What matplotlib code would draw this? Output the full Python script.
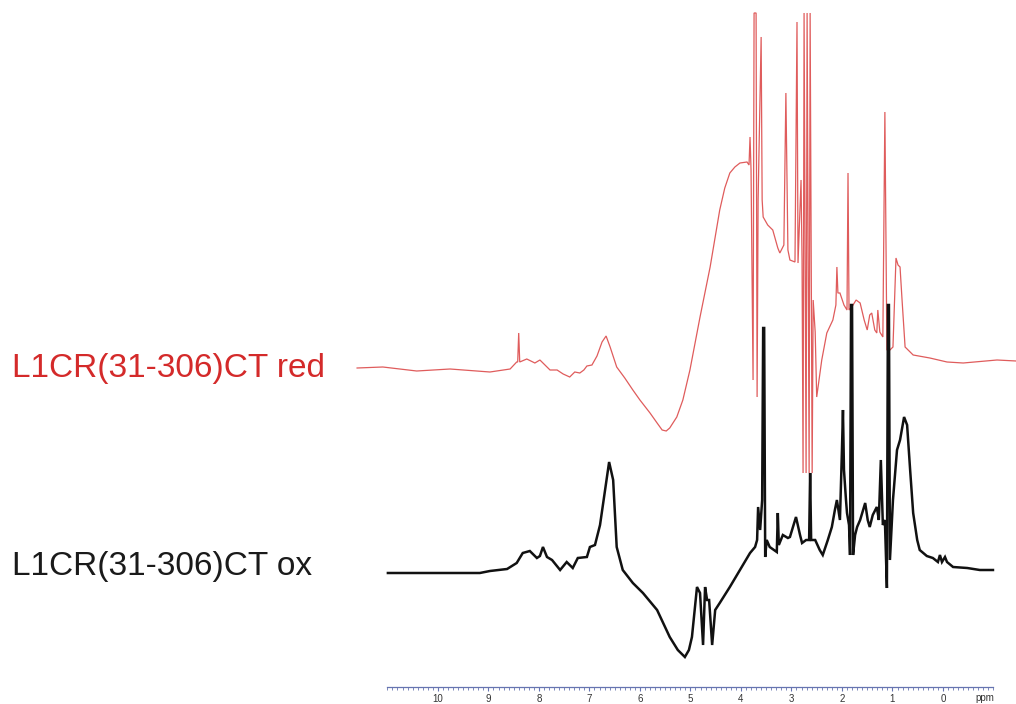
import numpy as np
import matplotlib
matplotlib.use("Agg")
import matplotlib.pyplot as plt
from matplotlib.ticker import FixedLocator

plt.rcParams['font.family'] = ['Liberation Sans', 'DejaVu Sans']

# reduced spectrum (red): shift in ppm, intensity (a.u.)
red_ppm = [11.60, 11.09, 10.42, 9.76, 8.97, 8.57, 8.44, 8.42, 8.40, 8.38,
           8.24, 8.08, 7.98, 7.88, 7.78, 7.64, 7.52, 7.39, 7.29, 7.19,
           7.11, 7.05, 6.95, 6.85, 6.75, 6.67, 6.59, 6.46, 6.30, 6.14,
           6.00, 5.80, 5.66, 5.56, 5.48, 5.41, 5.27, 5.15, 5.01, 4.81,
           4.61, 4.42, 4.32, 4.22, 4.12, 4.02, 3.88,
           3.84, 3.82, 3.80, 3.76, 3.74, 3.70, 3.68, 3.66, 3.60, 3.58,
           3.56, 3.47, 3.37, 3.27, 3.23, 3.15, 3.11, 3.07, 3.03, 2.93,
           2.89, 2.87, 2.81, 2.79, 2.77, 2.75, 2.71, 2.69, 2.65, 2.63,
           2.59, 2.57, 2.53, 2.50, 2.40, 2.30, 2.18, 2.12, 2.10, 2.08,
           2.04, 1.96, 1.90, 1.88, 1.86, 1.78, 1.72, 1.64, 1.56, 1.50,
           1.45, 1.41, 1.35, 1.31, 1.29, 1.25, 1.19, 1.15, 1.11, 1.05,
           0.99, 0.93, 0.89, 0.85, 0.81, 0.75, 0.59, 0.26, -0.08, -0.40,
           -1.07, -1.45]
red_int = [0, 1, -3, -1, -4, -1, 6, 6, 35, 6,
           9, 5, 8, 3, -2, -2, -6, -9, -4, -5,
           -2, 2, 3, 12, 26, 32, 21, 1, -10, -22,
           -32, -45, -55, -62, -63, -60, -49, -32, -2, 51,
           101, 158, 180, 195, 201, 205, 206,
           203, 231, 198, -12, 355, 355, -29, 168, 331, 168,
           151, 143, 138, 120, 115, 123, 275, 118, 108, 106,
           346, 105, 188, 108, -105, 355, -105, 355, -105, 355,
           -105, 68, 36, -29, 8, 35, 48, 63, 101, 75,
           75, 63, 58, 195, 58, 63, 68, 65, 48, 38,
           53, 55, 38, 35, 58, 36, 31, 256, 18, 18,
           21, 110, 103, 101, 68, 21, 13, 10, 6, 5,
           8, 7]

# oxidised spectrum (black)
ox_ppm = [10.99, 10.16, 9.17, 8.97, 8.63, 8.44, 8.32, 8.18, 8.04, 7.98,
          7.92, 7.84, 7.74, 7.58, 7.45, 7.33, 7.23, 7.05, 6.99, 6.89,
          6.79, 6.69, 6.61, 6.53, 6.46, 6.34, 6.14, 5.94, 5.66, 5.41,
          5.25, 5.11, 5.03, 4.97, 4.87, 4.81, 4.75, 4.71, 4.67, 4.63,
          4.57, 4.51, 4.42, 4.22, 4.02, 3.82, 3.72, 3.68, 3.66, 3.62,
          3.58, 3.56, 3.54, 3.52, 3.49, 3.43, 3.29, 3.27, 3.25, 3.17,
          3.07, 3.03, 2.91, 2.83, 2.79, 2.71, 2.65, 2.63, 2.61, 2.53,
          2.44, 2.38, 2.28, 2.20, 2.14, 2.10, 2.04, 2.00, 1.98, 1.96,
          1.92, 1.90, 1.86, 1.84, 1.82, 1.80, 1.78, 1.74, 1.70, 1.64,
          1.54, 1.49, 1.45, 1.39, 1.31, 1.27, 1.23, 1.19, 1.15, 1.11,
          1.09, 1.07, 1.05, 0.99, 0.91, 0.85, 0.77, 0.71, 0.65, 0.59,
          0.51, 0.46, 0.32, 0.20, 0.10, 0.06, 0.02, -0.04, -0.08, -0.20,
          -0.48, -0.73, -0.99]
ox_int = [0, 0, 0, 2, 4, 10, 20, 22, 15, 17,
          26, 16, 13, 3, 11, 5, 15, 16, 26, 28,
          48, 83, 111, 93, 26, 3, -10, -20, -37, -64,
          -77, -84, -77, -64, -14, -20, -72, -14, -27, -27,
          -72, -37, -30, -14, 3, 20, 26, 33, 66, 43,
          73, 245, 245, 16, 33, 26, 21, 60, 28, 38,
          35, 36, 56, 38, 30, 33, 33, 100, 33, 33,
          23, 18, 33, 46, 63, 73, 53, 123, 163, 103,
          73, 60, 48, 18, 268, 268, 18, 38, 46, 53,
          70, 53, 46, 58, 66, 53, 113, 48, 53, -15,
          268, 268, 13, 73, 123, 133, 156, 148, 103, 60,
          33, 23, 17, 15, 11, 18, 11, 16, 11, 6,
          5, 3, 3]

labels = ["L1CR(31-306)CT red", "L1CR(31-306)CT ox"]
major_ticks = [10, 9, 8, 7, 6, 5, 4, 3, 2, 1, 0]

red_offset = 336
ox_offset = 131

fig = plt.figure(figsize=(10.16, 7.04), dpi=100)
ax = fig.add_axes([0, 0, 1, 1])
ax.set_xlim(18.67, -1.446)
ax.set_ylim(0, 704)

ax.plot(red_ppm, red_offset + np.array(red_int), color='#dc4a4a', lw=0.9,
        alpha=0.9, solid_joinstyle='miter')
ax.plot(ox_ppm, ox_offset + np.array(ox_int), color='#111111', lw=1.8,
        solid_joinstyle='miter')

ax.text(18.44, red_offset - 1, labels[0], color='#d42a2a', fontsize=24,
        ha='left', va='center')
ax.text(18.44, ox_offset + 7, labels[1], color='#1a1a1a', fontsize=24,
        ha='left', va='center')

# ppm scale at the bottom
for side in ['top', 'left', 'right']:
    ax.spines[side].set_visible(False)
ax.spines['bottom'].set_position(('data', 17))
ax.spines['bottom'].set_bounds(11, -1)
ax.spines['bottom'].set_color('#6674b0')
ax.spines['bottom'].set_linewidth(0.9)
ax.set_yticks([])
ax.set_xticks(major_ticks)
ax.xaxis.set_minor_locator(FixedLocator(np.arange(-10, 111) / 10.0))
ax.tick_params(axis='x', which='major', direction='out', length=3,
               width=0.8, color='#6674b0', labelsize=7, labelcolor='#333333',
               pad=2)
ax.tick_params(axis='x', which='minor', direction='out', length=2,
               width=0.6, color='#6674b0')
ax.text(-0.83, 1, 'ppm', fontsize=7, color='#333333', ha='center', va='bottom')

fig.savefig('out.png', dpi=100)
